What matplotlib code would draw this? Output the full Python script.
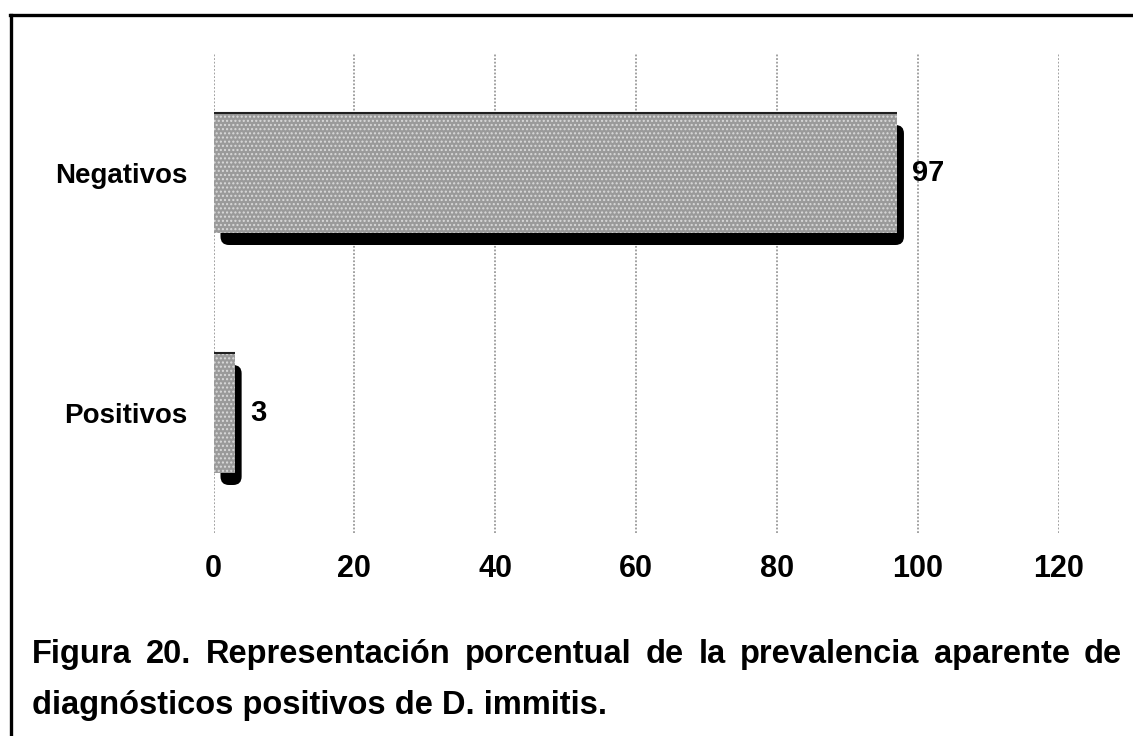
import matplotlib
matplotlib.use("Agg")
import matplotlib.pyplot as plt
from matplotlib.lines import Line2D
from matplotlib.patches import FancyBboxPatch
from matplotlib.transforms import ScaledTranslation

categories = ["Positivos", "Negativos"]
values = [3, 97]
xticks = [0, 20, 40, 60, 80, 100, 120]
caption_line1 = ["Figura", "20.", "Representación", "porcentual", "de", "la",
                 "prevalencia", "aparente", "de"]
caption_line2 = "diagnósticos positivos de D. immitis."

plt.rcParams["font.family"] = ["Liberation Sans", "DejaVu Sans"]
plt.rcParams["font.weight"] = "bold"
plt.rcParams["hatch.linewidth"] = 1.0

W, H = 1133, 736
fig = plt.figure(figsize=(W / 100, H / 100), dpi=100)
ax = fig.add_axes([213.5 / W, 1 - 533 / H, (1059 - 213.5) / W, (533 - 53) / H])

ax.set_xlim(0, 120)
ax.set_ylim(-0.5, 1.5)

# halftone-like grey fill: grey face with light dotted hatch
bars = ax.barh(categories, values, height=0.5, facecolor="#9a9a9a",
               edgecolor="#dadada", linewidth=0, hatch="....", zorder=3)

# black drop shadow with rounded corner, shifted right/down behind each bar
shift = ax.transData + ScaledTranslation(7 / 100, -12 / 100, fig.dpi_scale_trans)
for b in bars:
    ax.add_patch(FancyBboxPatch((b.get_x(), b.get_y()), b.get_width(), b.get_height(),
                                boxstyle="round,pad=0,rounding_size=1.2",
                                mutation_aspect=7.05 / 240, facecolor="black",
                                edgecolor="none", transform=shift, zorder=2))
    ax.plot([b.get_x(), b.get_x() + b.get_width()], [b.get_y() + b.get_height()] * 2,
            color="#202020", linewidth=1.5, zorder=4, solid_capstyle="butt")

for b, v in zip(bars, values):
    ax.annotate(str(v), (b.get_width(), b.get_y() + b.get_height() / 2),
                textcoords="offset points", xytext=(11, 0), va="center",
                ha="left", fontsize=21, fontweight="bold", color="black")

ax.set_xticks(xticks)
ax.tick_params(axis="x", length=0, pad=15, labelsize=22)
ax.tick_params(axis="y", length=0, pad=19, labelsize=20)
ax.grid(axis="x", color="#9a9a9a", linestyle=(0, (1, 1)), linewidth=1.3, zorder=0)
ax.set_axisbelow(True)
for s in ax.spines.values():
    s.set_visible(False)

# outer frame (top and left only)
fig.add_artist(Line2D([10 / W, 1], [1 - 15 / H, 1 - 15 / H], color="black",
                      linewidth=2.4, transform=fig.transFigure))
fig.add_artist(Line2D([11 / W, 11 / W], [1 - 15 / H, 0], color="black",
                      linewidth=2.4, transform=fig.transFigure))

# justified first caption line
cap_kw = dict(fontsize=23.5, fontweight="bold", va="baseline", ha="left",
              transform=fig.transFigure)
x0, x1 = 32 / W, 1122 / W
y1, y2 = 1 - 663 / H, 1 - 714 / H
renderer = fig.canvas.get_renderer()
words = [fig.text(0, y1, w, **cap_kw) for w in caption_line1]
widths = [t.get_window_extent(renderer).width / W for t in words]
gap = (x1 - x0 - sum(widths)) / (len(words) - 1)
x = x0
for t, w in zip(words, widths):
    t.set_x(x)
    x += w + gap
fig.text(x0, y2, caption_line2, **cap_kw)

fig.savefig("out.png", dpi=100)
